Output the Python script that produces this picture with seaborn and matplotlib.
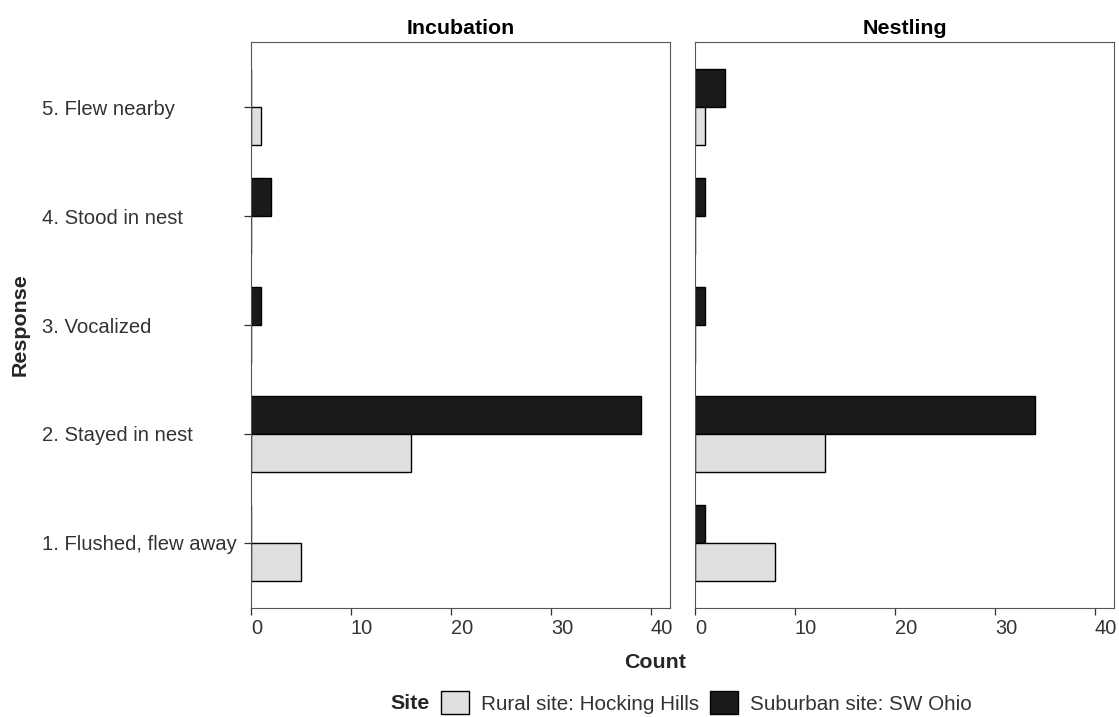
import matplotlib
matplotlib.use("Agg")
import matplotlib.pyplot as plt
import numpy as np
import pandas as pd
import seaborn as sns
from matplotlib.patches import Patch

respostas = ["5. Flew nearby", "4. Stood in nest", "3. Vocalized",
             "2. Stayed in nest", "1. Flushed, flew away"]
rural = "Rural site: Hocking Hills"
suburban = "Suburban site: SW Ohio"

incub_rural = [1, 0, 0, 16, 5]
incub_suburban = [0, 2, 1, 39, 0]
nest_rural = [1, 0, 0, 13, 8]
nest_suburban = [3, 1, 1, 34, 1]

culori = {rural: "#e0e0e0", suburban: "#1a1a1a"}


def tabel(valori_rural, valori_suburban):
    t = pd.DataFrame({
        "Response": respostas * 2,
        "Site": [rural] * len(respostas) + [suburban] * len(respostas),
        "Count": valori_rural + valori_suburban,
    })
    return t


sns.set_theme(style="white")
plt.rcParams["font.family"] = ["Liberation Sans", "DejaVu Sans"]

fig = plt.figure(figsize=(11.19, 7.17), dpi=100)
ax1 = fig.add_axes([0.2243, 0.152, 0.3744, 0.7894])
ax2 = fig.add_axes([0.6211, 0.152, 0.3744, 0.7894])

paneluri = [(ax1, "Incubation", tabel(incub_rural, incub_suburban)),
            (ax2, "Nestling", tabel(nest_rural, nest_suburban))]

for ax, titlu, t in paneluri:
    sns.barplot(data=t, y="Response", x="Count", hue="Site", order=respostas,
                hue_order=[suburban, rural], palette=culori, orient="h",
                width=0.7, edgecolor="black", linewidth=1.0, ax=ax,
                legend=False, errorbar=None)
    ax.set_xlim(0, 41.9)
    ax.set_ylim(4.6, -0.6)
    ax.set_xticks([0, 10, 20, 30, 40])
    ax.set_title(titlu, fontsize=15.4, fontweight="bold", pad=6, color="black")
    ax.set_xlabel("")
    ax.set_ylabel("")
    for s in ax.spines.values():
        s.set_visible(True)
        s.set_color("#555555")
        s.set_linewidth(0.8)
    ax.tick_params(axis="x", bottom=True, length=5, width=0.9, color="#333333",
                   labelsize=14.4, labelcolor="#333333", pad=3)
    for lbl in ax.get_xticklabels():
        lbl.set_horizontalalignment("left")

# etichetele axei y sunt aliniate la stanga, ca in ggplot cu hjust=0
ax1.tick_params(axis="y", left=True, length=5, width=0.9, color="#333333",
                labelsize=14.6, labelcolor="#333333", pad=(251 - 44 - 5) * 0.72)
for lbl in ax1.get_yticklabels():
    lbl.set_horizontalalignment("left")
ax2.tick_params(axis="y", left=False, labelleft=False)

fig.text(0.018, 0.547, "Response", rotation=90, fontsize=15.4,
         fontweight="bold", ha="center", va="center")
fig.text(0.585, 0.0767, "Count", fontsize=15.4, fontweight="bold",
         ha="center", va="center")

fig.text(0.3665, 0.019, "Site", fontsize=15.4, fontweight="bold",
         ha="center", va="center")
handles = [Patch(facecolor=culori[rural], edgecolor="black", linewidth=1.0),
           Patch(facecolor=culori[suburban], edgecolor="black", linewidth=1.0)]
fig.legend(handles, [rural, suburban], loc="center", ncol=2,
           bbox_to_anchor=(0.6314, 0.02), frameon=False, fontsize=14.9,
           handlelength=1.35, handleheight=1.35, handletextpad=0.58,
           columnspacing=0.53, borderpad=0.0, labelcolor="#333333")

fig.savefig("out.png", dpi=100)
